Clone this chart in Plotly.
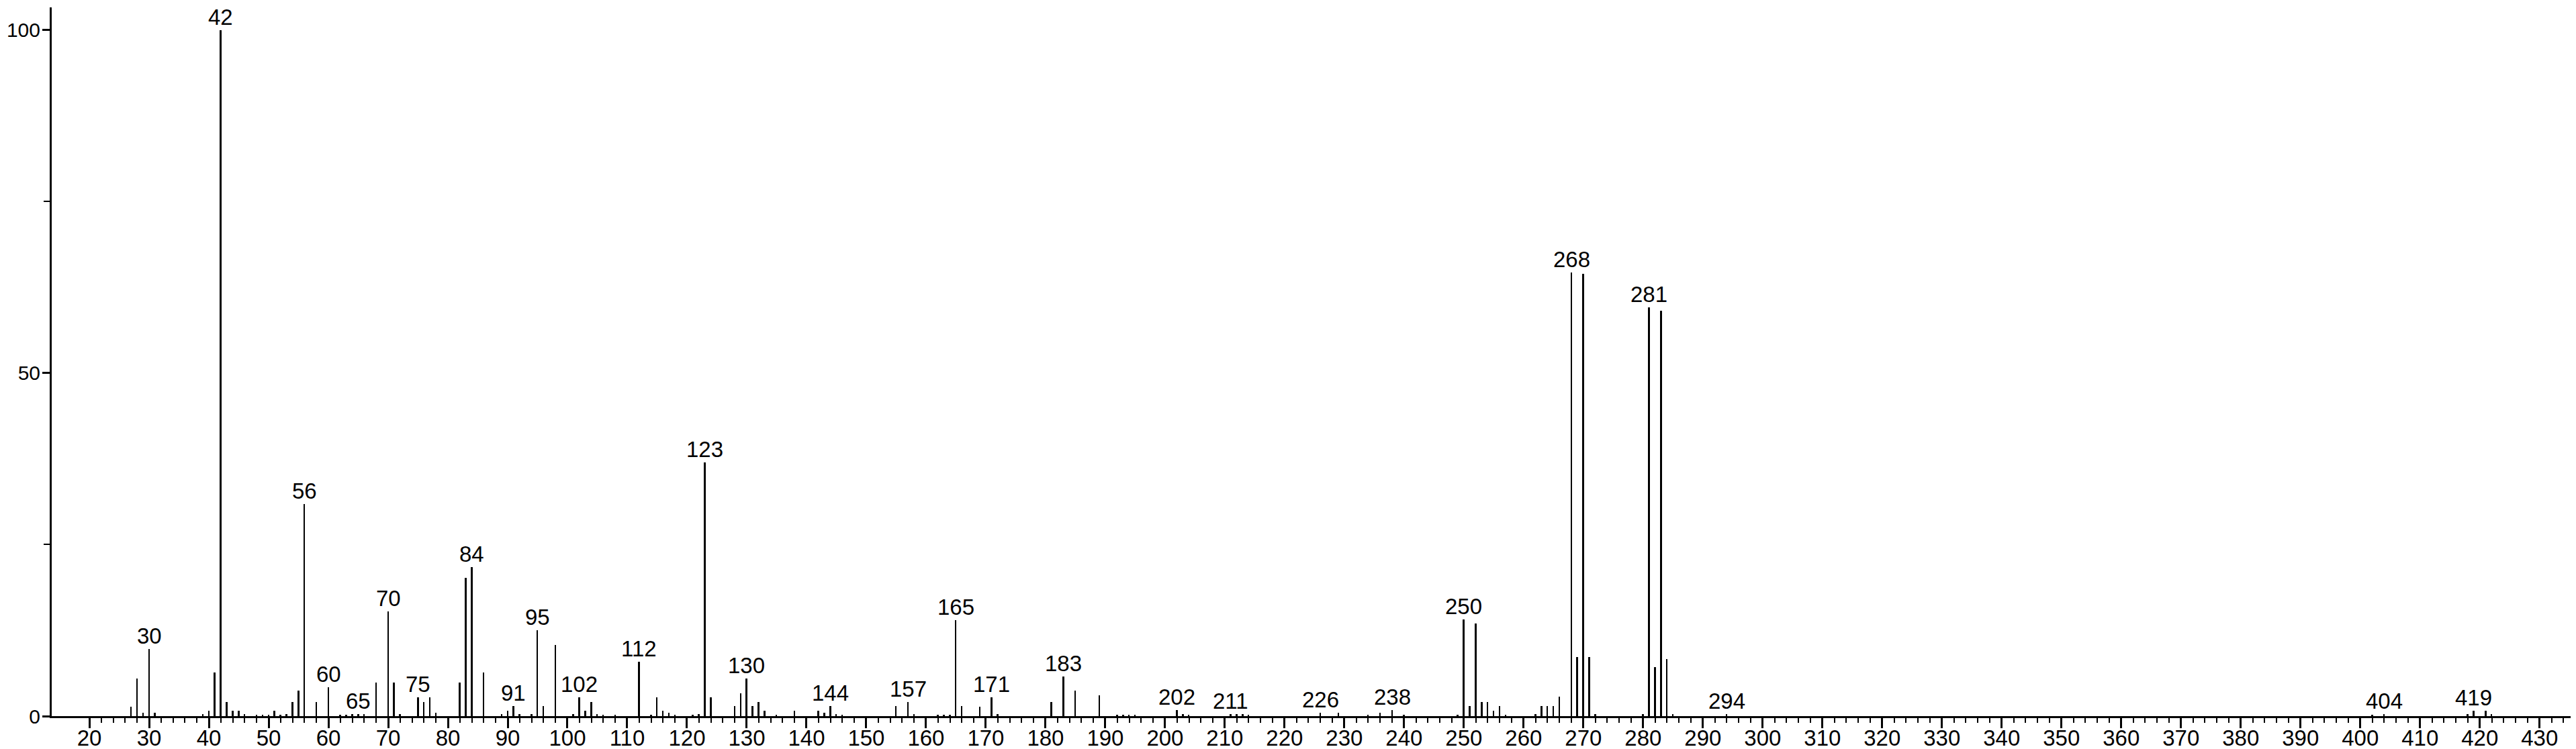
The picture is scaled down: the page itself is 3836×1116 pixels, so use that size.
import plotly.graph_objects as go

# m/z values and relative intensities (%)
mz = [27, 28, 29, 30, 31, 39, 40, 41, 42, 43, 44, 45, 46, 48, 49, 50, 51, 52, 53, 54,
      55, 56, 58, 60, 62, 63, 64, 65, 66, 68, 70, 71, 72, 75, 76, 77, 78, 82, 83, 84,
      86, 89, 90, 91, 92, 94, 95, 96, 98, 101, 102, 103, 104, 105, 106, 108, 112, 114,
      115, 116, 117, 118, 121, 122, 123, 124, 128, 129, 130, 131, 132, 133, 135, 138,
      142, 143, 144, 145, 146, 155, 157, 158, 162, 163, 164, 165, 166, 169, 171, 172,
      181, 183, 185, 189, 192, 193, 194, 195, 202, 203, 204, 211, 212, 213, 214, 226,
      229, 234, 236, 238, 240, 249, 250, 251, 252, 253, 254, 255, 256, 257, 262, 263,
      264, 265, 266, 268, 269, 270, 271, 272, 280, 281, 282, 283, 284, 285, 294, 402,
      404, 418, 419, 421, 422]
intensity = [1.4, 5.5, 0.5, 9.8, 0.5, 0.3, 0.8, 6.4, 100, 2.1, 0.8, 0.8, 0.3, 0.2, 0.2, 0.2, 0.8, 0.2, 0.3, 2.1,
             3.7, 30.9, 2.1, 4.2, 0.2, 0.2, 0.3, 0.3, 0.3, 4.9, 15.3, 4.9, 0.3, 2.7, 2.1, 2.7, 0.5, 4.9, 20.2, 21.7,
             6.4, 0.3, 0.8, 1.5, 0.3, 0.3, 12.5, 1.5, 10.4, 0.3, 2.7, 0.8, 2.1, 0.3, 0.2, 0.2, 7.9, 0.2,
             2.7, 0.8, 0.5, 0.2, 0.2, 0.3, 37.0, 2.7, 1.5, 3.3, 5.5, 1.5, 2.1, 0.8, 0.2, 0.8,
             0.8, 0.5, 1.5, 0.3, 0.2, 1.5, 2.1, 0.3, 0.2, 0.2, 0.2, 14.0, 1.5, 1.4, 2.7, 0.3,
             2.1, 5.8, 3.7, 3.0, 0.2, 0.2, 0.2, 0.2, 0.9, 0.3, 0.2, 0.3, 0.3, 0.3, 0.2, 0.5,
             0.5, 0.2, 0.5, 0.9, 0.2, 0.2, 14.1, 1.5, 13.5, 2.1, 2.1, 0.8, 1.5, 0.2, 0.3, 1.5,
             1.5, 1.5, 2.8, 64.7, 8.6, 64.5, 8.6, 0.3, 0.3, 59.6, 7.1, 59.1, 8.3, 0.3, 0.3, 0.2,
             0.3, 0.3, 0.8, 0.8, 0.3]

# labelled peaks
label_mz = [30, 42, 56, 60, 65, 70, 75, 84, 91, 95, 102, 112, 123, 130, 144, 157, 165,
            171, 183, 202, 211, 226, 238, 250, 268, 281, 294, 404, 419]

x_major = list(range(20, 431, 10))
x_minor = list(range(20, 437, 2))
y_major = [0, 50, 100]
y_major_text = ["0", "50", "100"]
y_minor = [25, 75]

FONT = "Liberation Sans, Arial, sans-serif"
FS = 33

fig = go.Figure()
fig.add_trace(go.Bar(x=mz, y=intensity, width=0.22,
                     marker=dict(color="black", line=dict(width=0)),
                     hoverinfo="x+y"))

lookup = dict(zip(mz, intensity))
for m in label_mz:
    fig.add_annotation(x=m, y=lookup[m], text=str(m), showarrow=False,
                       xanchor="center", yanchor="bottom", yshift=-1,
                       font=dict(family=FONT, size=FS, color="black"))

fig.update_layout(
    width=3836, height=1116,
    margin=dict(l=69, r=0, t=3, b=57),
    paper_bgcolor="white", plot_bgcolor="white",
    showlegend=False, bargap=0,
    font=dict(family=FONT, size=FS, color="black"),
)
fig.update_xaxes(range=[13.7, 437.0], showgrid=False, zeroline=False,
                 showline=True, linecolor="black", linewidth=3,
                 tickmode="array", tickvals=x_major, ticktext=[str(v) for v in x_major],
                 ticks="outside", ticklen=15, tickwidth=2.5, tickcolor="black",
                 tickfont=dict(family=FONT, size=FS, color="black"),
                 ticklabelstandoff=-14,
                 minor=dict(tickvals=x_minor, ticks="outside", ticklen=7,
                            tickwidth=2, tickcolor="black"),
                 automargin=False)
fig.update_yaxes(range=[0, 103.3], showgrid=False, zeroline=False,
                 showline=True, linecolor="black", linewidth=3,
                 tickmode="array", tickvals=y_major, ticktext=y_major_text,
                 ticks="outside", ticklen=11, tickwidth=2.5, tickcolor="black",
                 tickfont=dict(family=FONT, size=30, color="black"),
                 ticklabelstandoff=-3,
                 minor=dict(tickvals=y_minor, ticks="outside", ticklen=9,
                            tickwidth=2, tickcolor="black"),
                 automargin=False)

fig.write_html("out.html")
